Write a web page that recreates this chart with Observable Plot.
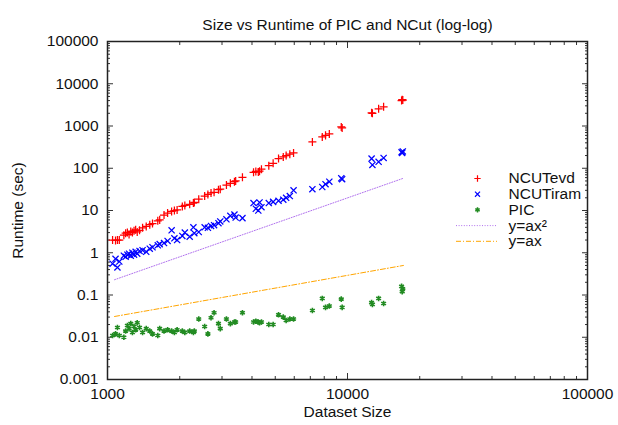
<!DOCTYPE html>
<html><head><meta charset="utf-8">
<script src="https://cdn.jsdelivr.net/npm/d3@7"></script>
<script src="https://cdn.jsdelivr.net/npm/@observablehq/plot@0.6"></script>
<style>body{margin:0;background:#fff} svg{display:block}</style>
</head><body><div id="chart"></div>
<script>
const sizes = [1050,1080,1100,1120,1170,1190,1210,1230,1250,1270,
  1290,1310,1330,1360,1400,1450,1500,1540,1620,1650,
  1720,1780,1850,1900,1950,2050,2100,2200,2280,2300,
  2400,2540,2620,2700,2780,2900,2950,3130,3250,3380,
  3420,3650,4060,4150,4250,4300,4380,4700,4900,5160,
  5400,5550,5750,5960,7140,7850,8100,8400,9420,9500,
  12600,12700,13480,14140,16800,16900,17000];
const ncutEvd = [2.0,1.95,2.0,2.0,2.6,2.9,3.0,2.7,3.2,3.0,
  3.3,3.5,3.1,3.4,3.9,4.2,4.6,4.9,5.7,6.0,
  7.8,8.7,9.5,10.0,10.3,12.5,13.2,14.0,15.0,15.5,
  18.5,22,24,26,27,31,32,40,44,48,
  50,61,80,84,82,85,95,115,131,170,
  185,200,215,230,420,550,600,650,950,900,
  2050,2000,2550,2850,4000,4200,4100];
const ncutIram = [0.55,0.72,0.45,0.62,0.85,0.80,0.90,0.95,0.85,1.0,
  0.90,1.05,0.95,1.1,1.15,1.05,1.25,1.35,1.5,1.6,
  1.7,1.9,3.4,2.2,2.0,2.5,3.0,2.4,4.0,2.9,
  3.1,4.0,3.9,4.3,4.5,5.0,5.5,6.2,7.5,8.0,
  6.8,6.6,15,11,10,15.5,12,15,16,17,
  18,20,22,30,32,36,42,48,58,55,
  169,120,142,175,240,230,250];
const picRuntime = [0.011,0.012,0.017,0.011,0.010,0.014,0.019,0.016,0.021,0.013,
  0.018,0.015,0.022,0.017,0.013,0.016,0.014,0.012,0.011,0.016,
  0.014,0.015,0.014,0.013,0.015,0.014,0.013,0.014,0.013,0.014,
  0.027,0.018,0.012,0.029,0.038,0.021,0.016,0.027,0.021,0.023,
  0.023,0.038,0.023,0.024,0.023,0.022,0.023,0.020,0.020,0.034,
  0.030,0.025,0.027,0.027,0.043,0.083,0.051,0.055,0.080,0.051,
  0.066,0.060,0.083,0.063,0.16,0.12,0.14];
const fitSizes = [1070, 17100];
const fitQuad = [0.23, 58];
const fitLin = [0.031, 0.5];
const legendLabels = ["NCUTevd", "NCUTiram", "PIC", "y=ax²", "y=ax"];
const titleText = "Size vs Runtime of PIC and NCut (log-log)";
const xMajor = [1000, 10000, 100000];
const yMajor = [0.001, 0.01, 0.1, 1, 10, 100, 1000, 10000, 100000];

const xMinor = [1000, 10000].flatMap(d => [2,3,4,5,6,7,8,9].map(k => d * k));
const yMinor = yMajor.slice(0, -1).flatMap(d => [2,3,4,5,6,7,8,9].map(k => +(d * k).toPrecision(3)));

const points = sizes.map((s, i) => ({size: s, evd: ncutEvd[i], iram: ncutIram[i], pic: picRuntime[i]}));
const fits = fitSizes.map((s, i) => ({size: s, quad: fitQuad[i], lin: fitLin[i]}));

const colors = {evd: "#ff0000", iram: "#0000ff", pic: "#228b22", quad: "#b070ee", lin: "#ffa500"};
const quadDash = "1,1.6";
const linDash = "5,2,1,2";

const rowStep = 15.7, rowOff = -0.6;
const rowDy = i => (i - 2) * rowStep + rowOff;
const textDx = -79, symDx = -110, lineL = 349, lineR = 90;

const legendMarks = [
  ...legendLabels.map((lab, i) => Plot.text([lab], {frameAnchor: "right", textAnchor: "start", dx: textDx, dy: rowDy(i), fill: "#111"})),
  Plot.dot([0], {x: null, y: null, frameAnchor: "right", dx: symDx, dy: rowDy(0), symbol: "plus", stroke: colors.evd, r: 2.2, strokeWidth: 1.2}),
  Plot.dot([0], {x: null, y: null, frameAnchor: "right", dx: symDx, dy: rowDy(1), symbol: "times", stroke: colors.iram, r: 2.4, strokeWidth: 1.2}),
  Plot.dot([0], {x: null, y: null, frameAnchor: "right", dx: symDx, dy: rowDy(2), symbol: "asterisk", stroke: colors.pic, r: 2.4, strokeWidth: 1.5}),
  Plot.ruleY([0], {y: null, insetLeft: lineL, insetRight: lineR, dy: rowDy(3), stroke: colors.quad, strokeDasharray: quadDash}),
  Plot.ruleY([0], {y: null, insetLeft: lineL, insetRight: lineR, dy: rowDy(4), stroke: colors.lin, strokeDasharray: linDash})
];

const tickAxes = [
  ...["bottom", "top"].flatMap(a => [
    Plot.axisX(xMajor, {anchor: a, tickSize: -6, fill: "none", label: null, stroke: "#333"}),
    Plot.axisX(xMinor, {anchor: a, tickSize: -3, fill: "none", label: null, stroke: "#333"})
  ]),
  ...["left", "right"].flatMap(a => [
    Plot.axisY(yMajor, {anchor: a, tickSize: -6, fill: "none", label: null, stroke: "#333"}),
    Plot.axisY(yMinor, {anchor: a, tickSize: -3, fill: "none", label: null, stroke: "#333"})
  ])
];

const chart = Plot.plot({
  width: 618,
  height: 425,
  marginLeft: 107,
  marginRight: 31,
  marginTop: 41,
  marginBottom: 46,
  style: {fontSize: "15.5px", fontFamily: "'Liberation Sans', Arial, Helvetica, sans-serif", background: "#fff", color: "#111"},
  x: {type: "log", domain: [1000, 100000]},
  y: {type: "log", domain: [0.001, 100000]},
  marks: [
    ...tickAxes,
    Plot.axisX(xMajor, {anchor: "bottom", tickSize: 0, tickPadding: 8, tickFormat: d => String(d), label: "Dataset Size", labelAnchor: "center", labelOffset: 37, labelArrow: "none"}),
    Plot.axisY(yMajor, {anchor: "left", tickSize: 0, tickPadding: 9, tickFormat: d => String(d), label: "Runtime (sec)", labelAnchor: "center", labelOffset: 96, labelArrow: "none"}),
    Plot.line(fits, {x: "size", y: "quad", stroke: colors.quad, strokeWidth: 1, strokeDasharray: quadDash}),
    Plot.line(fits, {x: "size", y: "lin", stroke: colors.lin, strokeWidth: 1, strokeDasharray: linDash}),
    Plot.dot(points, {x: "size", y: "evd", symbol: "plus", stroke: colors.evd, r: 2.7, strokeWidth: 1.25}),
    Plot.dot(points, {x: "size", y: "iram", symbol: "times", stroke: colors.iram, r: 2.9, strokeWidth: 1.25}),
    Plot.dot(points, {x: "size", y: "pic", symbol: "asterisk", stroke: colors.pic, r: 2.6, strokeWidth: 1.6}),
    ...legendMarks,
    Plot.text([titleText], {frameAnchor: "top", dy: -23, fill: "#111"}),
    Plot.frame({stroke: "#222", strokeWidth: 1.5})
  ]
});
document.getElementById("chart").appendChild(chart);
</script>
</body></html>
